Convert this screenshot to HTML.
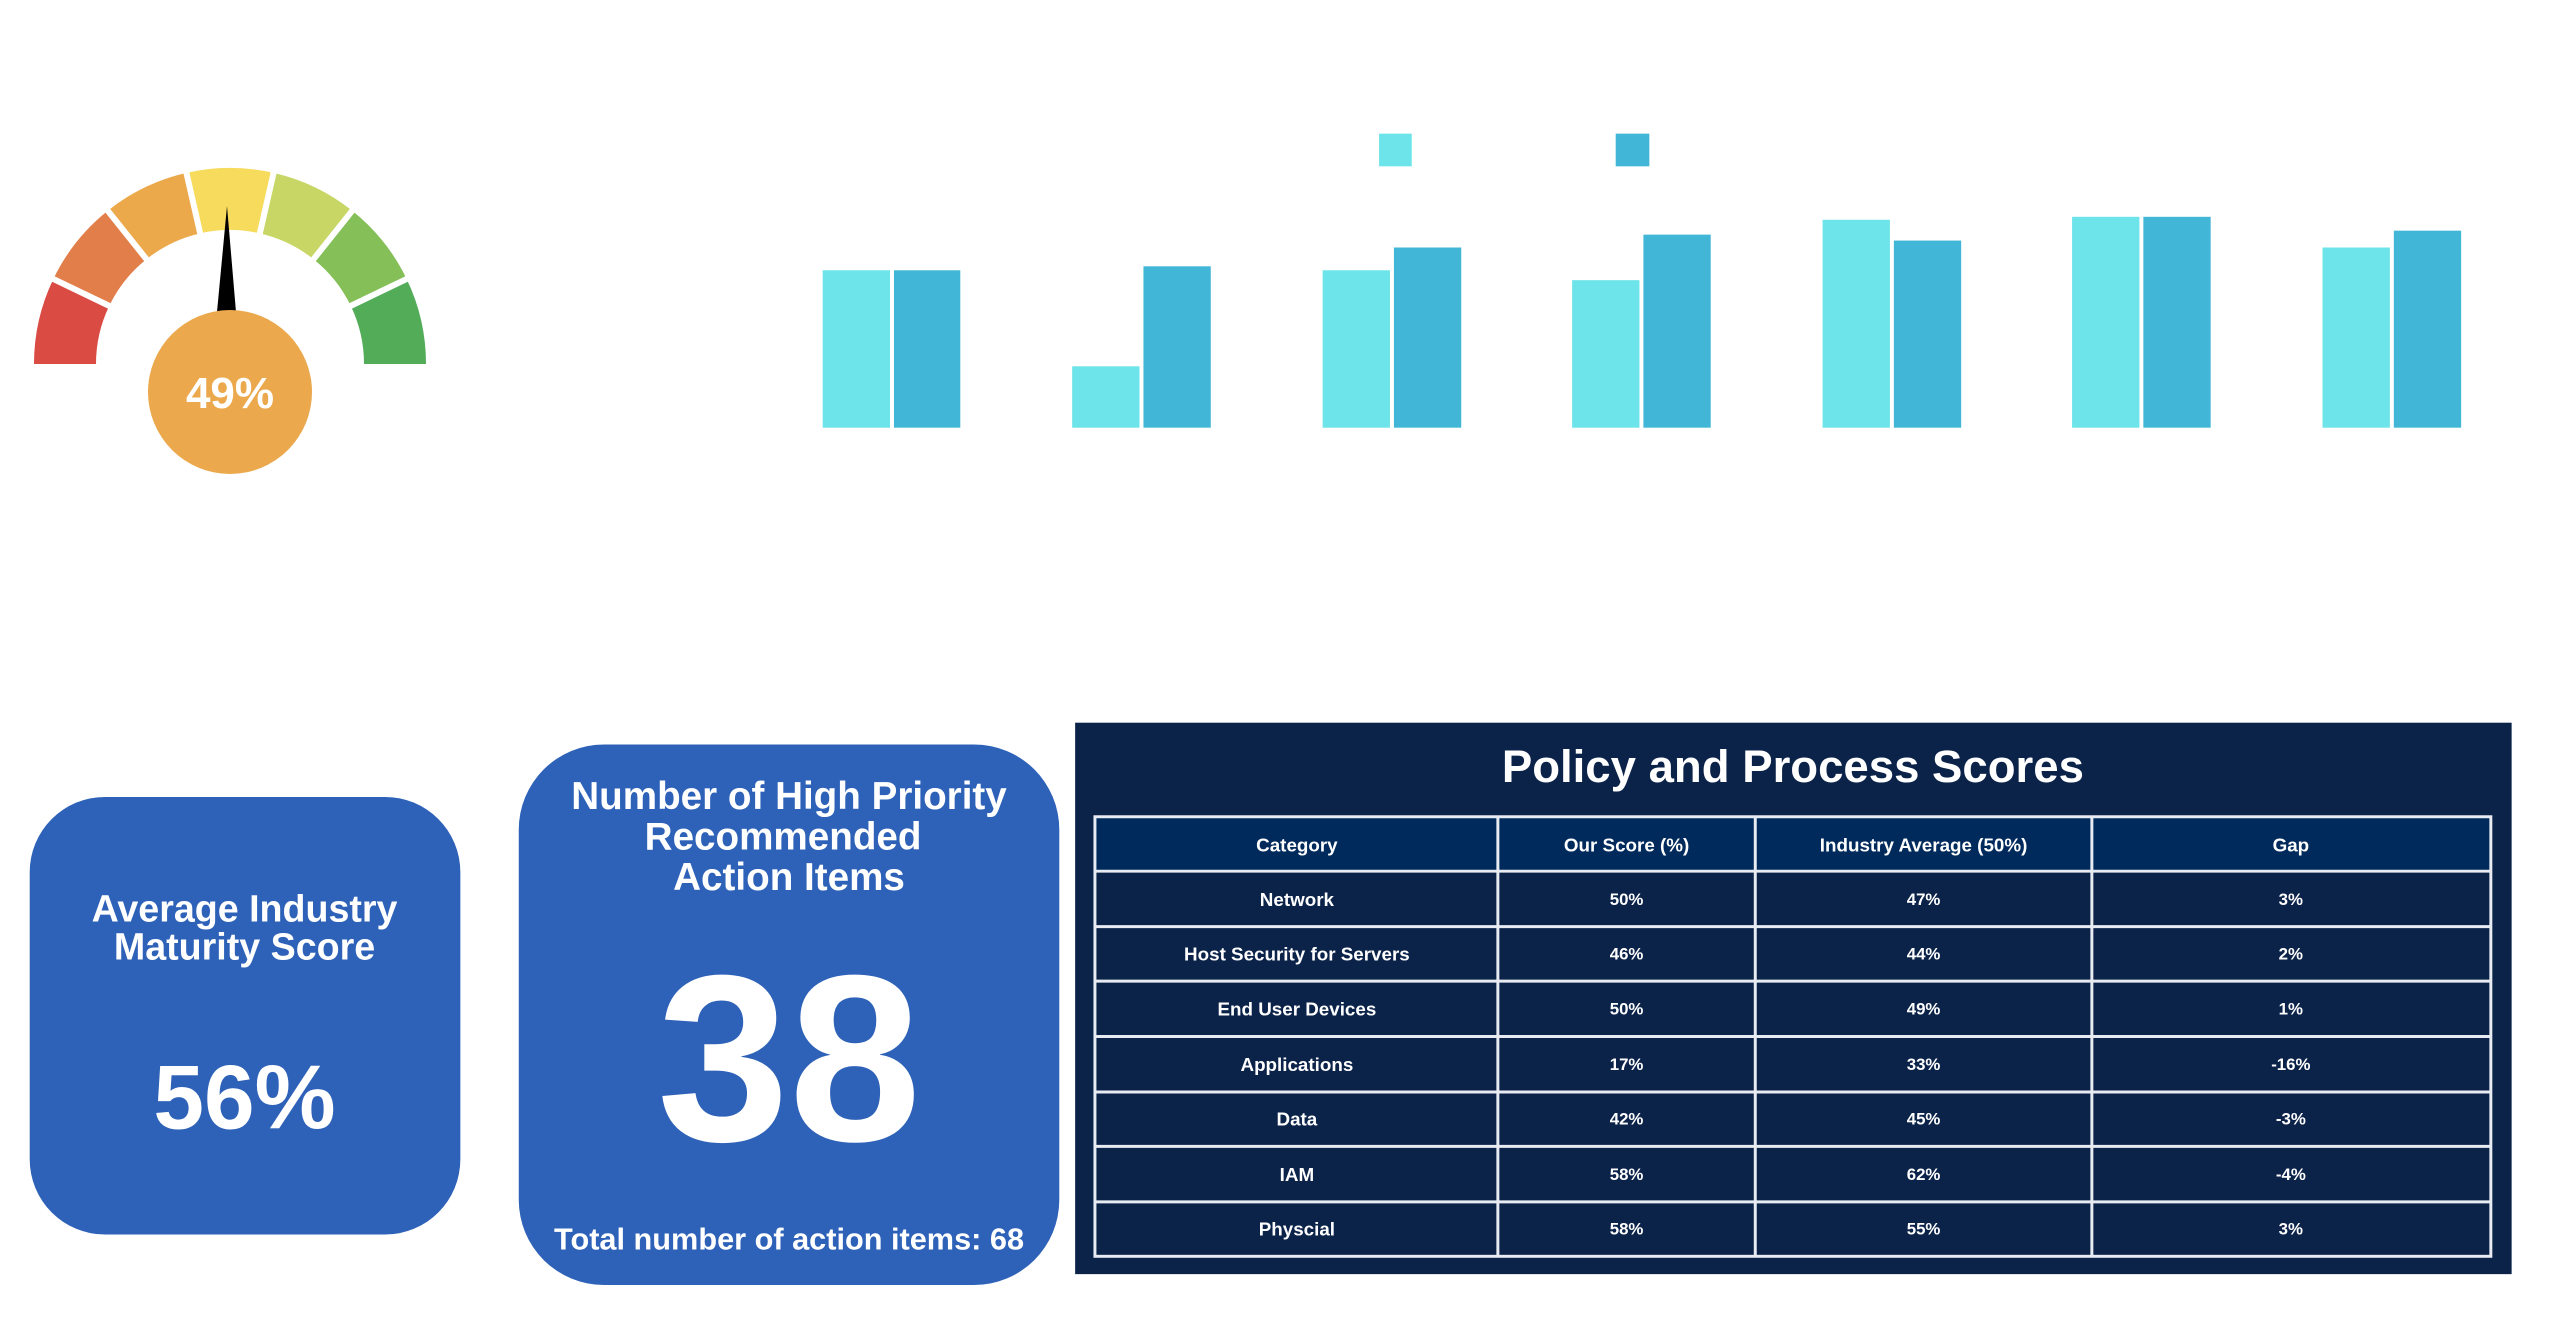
<!DOCTYPE html>
<html><head><meta charset="utf-8"><style>
html,body{margin:0;padding:0;background:#fff;}
svg{display:block;font-family:"Liberation Sans",sans-serif;}
</style></head><body>
<svg width="2550" height="1334" viewBox="0 0 2550 1334">
<rect width="2550" height="1334" fill="#fff"/>
<g>
<g fill="none" stroke-width="62">
<path d="M65,364 A165,165 0 0 1 81.3,292.4" stroke="#d94b43"/>
<path d="M81.3,292.4 A165,165 0 0 1 127.1,235" stroke="#e27e4a"/>
<path d="M127.1,235 A165,165 0 0 1 193.3,203.1" stroke="#eba94c"/>
<path d="M193.3,203.1 A165,165 0 0 1 266.7,203.1" stroke="#f6db5c"/>
<path d="M266.7,203.1 A165,165 0 0 1 332.9,235" stroke="#c8d665"/>
<path d="M332.9,235 A165,165 0 0 1 378.7,292.4" stroke="#84bf58"/>
<path d="M378.7,292.4 A165,165 0 0 1 395,364" stroke="#52ac58"/>
</g>
<g stroke="#fff" stroke-width="6">
<line x1="114.7" y1="308.5" x2="48" y2="276.4"/>
<line x1="150.2" y1="263.9" x2="104.1" y2="206.1"/>
<line x1="201.5" y1="239.2" x2="185.1" y2="167.1"/>
<line x1="258.5" y1="239.2" x2="274.9" y2="167.1"/>
<line x1="309.8" y1="263.9" x2="355.9" y2="206.1"/>
<line x1="345.3" y1="308.5" x2="412" y2="276.4"/>
</g>
<polygon points="227,206 217,312 236,312" fill="#000"/>
<circle cx="230" cy="392" r="82" fill="#eba84c"/>
<text x="230" y="408" text-anchor="middle" font-size="44" font-weight="bold" fill="#fff">49%</text>
</g>
<g transform="scale(0.99)">
<rect x="1393" y="135" width="33" height="33" fill="#6ce4e9"/>
<rect x="1632" y="135" width="34" height="33" fill="#41b6d6"/>
<g fill="#6ce4e9">
<rect x="831" y="273" width="68" height="159"/>
<rect x="1083" y="370" width="68" height="62"/>
<rect x="1336" y="273" width="68" height="159"/>
<rect x="1588" y="283" width="68" height="149"/>
<rect x="1841" y="222" width="68" height="210"/>
<rect x="2093" y="219" width="68" height="213"/>
<rect x="2346" y="250" width="68" height="182"/>
</g>
<g fill="#41b6d6">
<rect x="903" y="273" width="67" height="159"/>
<rect x="1155" y="269" width="68" height="163"/>
<rect x="1408" y="250" width="68" height="182"/>
<rect x="1660" y="237" width="68" height="195"/>
<rect x="1913" y="243" width="68" height="189"/>
<rect x="2165" y="219" width="68" height="213"/>
<rect x="2418" y="233" width="68" height="199"/>
</g>
<rect x="30" y="805" width="435" height="442" rx="76" fill="#2e62b8"/>
<g fill="#fff" font-weight="bold" text-anchor="middle">
<text x="247" y="931" font-size="38">Average Industry</text>
<text x="247" y="969" font-size="38">Maturity Score</text>
<text x="247" y="1140" font-size="92">56%</text>
</g>
<rect x="524" y="752" width="546" height="546" rx="86" fill="#2e62b8"/>
<g fill="#fff" font-weight="bold" text-anchor="middle">
<text x="797" y="817" font-size="39">Number of High Priority</text>
<text x="791" y="858" font-size="39">Recommended</text>
<text x="797" y="899" font-size="39">Action Items</text>
<text x="797" y="1152" font-size="240">38</text>
<text x="797" y="1262" font-size="31">Total number of action items: 68</text>
</g>
<rect x="1086" y="730" width="1451" height="557" fill="#0b2249"/>
<text x="1811" y="790" text-anchor="middle" font-size="46" font-weight="bold" fill="#fff">Policy and Process Scores</text>
<rect x="1106" y="825" width="1410" height="55" fill="#002a5c"/>
<g stroke="#e8ecf2" stroke-width="3" fill="none">
<rect x="1106" y="825" width="1410" height="444"/>
<line x1="1106" y1="880" x2="2516" y2="880"/>
<line x1="1106" y1="936" x2="2516" y2="936"/>
<line x1="1106" y1="991" x2="2516" y2="991"/>
<line x1="1106" y1="1047" x2="2516" y2="1047"/>
<line x1="1106" y1="1103" x2="2516" y2="1103"/>
<line x1="1106" y1="1158" x2="2516" y2="1158"/>
<line x1="1106" y1="1214" x2="2516" y2="1214"/>
<line x1="1513" y1="825" x2="1513" y2="1269"/>
<line x1="1773" y1="825" x2="1773" y2="1269"/>
<line x1="2113" y1="825" x2="2113" y2="1269"/>
</g>
<g fill="#fff" font-weight="bold" text-anchor="middle" font-size="19">
<text x="1310" y="860">Category</text><text x="1643" y="860">Our Score (%)</text><text x="1943" y="860">Industry Average (50%)</text><text x="2314" y="860">Gap</text>
<text x="1310" y="915">Network</text>
<text x="1310" y="970">Host Security for Servers</text>
<text x="1310" y="1026">End User Devices</text>
<text x="1310" y="1082">Applications</text>
<text x="1310" y="1137">Data</text>
<text x="1310" y="1193">IAM</text>
<text x="1310" y="1248">Physcial</text>
</g>
<g fill="#fff" font-weight="bold" text-anchor="middle" font-size="17">
<text x="1643" y="914">50%</text><text x="1943" y="914">47%</text><text x="2314" y="914">3%</text>
<text x="1643" y="969">46%</text><text x="1943" y="969">44%</text><text x="2314" y="969">2%</text>
<text x="1643" y="1025">50%</text><text x="1943" y="1025">49%</text><text x="2314" y="1025">1%</text>
<text x="1643" y="1081">17%</text><text x="1943" y="1081">33%</text><text x="2314" y="1081">-16%</text>
<text x="1643" y="1136">42%</text><text x="1943" y="1136">45%</text><text x="2314" y="1136">-3%</text>
<text x="1643" y="1192">58%</text><text x="1943" y="1192">62%</text><text x="2314" y="1192">-4%</text>
<text x="1643" y="1247">58%</text><text x="1943" y="1247">55%</text><text x="2314" y="1247">3%</text>
</g>
</g>
</svg>
</body></html>
